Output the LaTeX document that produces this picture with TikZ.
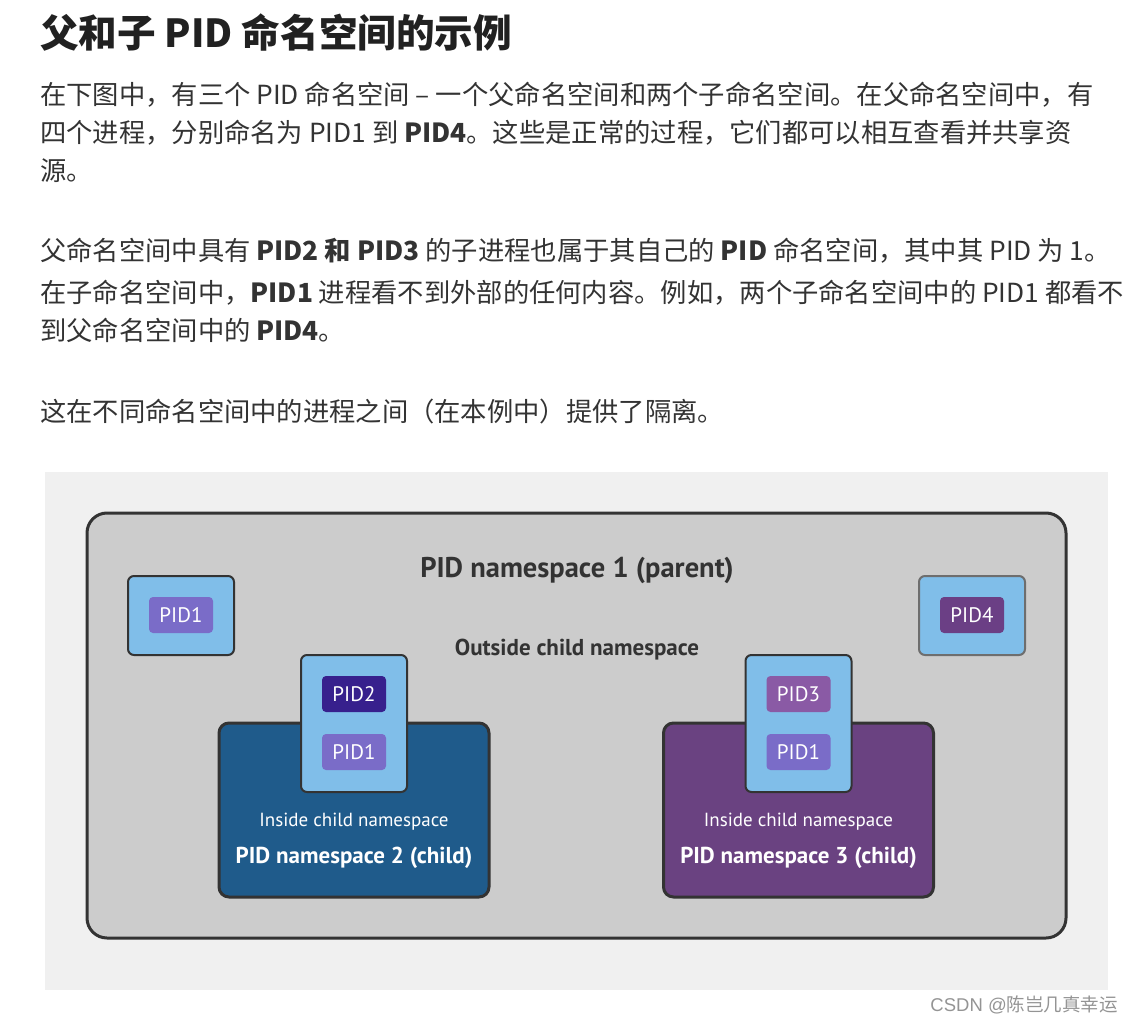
\documentclass[tikz,border=0pt]{standalone}
\usepackage{fontspec}
\setmainfont{Noto Sans CJK SC}
\newfontfamily\diagfont{PT Sans}
\newfontfamily\markfont{Liberation Sans}
\definecolor{ink}{HTML}{333333}
\definecolor{pagebg}{HTML}{F0F0F0}
\definecolor{parentfill}{HTML}{CCCCCC}
\definecolor{edge}{HTML}{333333}
\definecolor{sky}{HTML}{80BEE9}
\definecolor{lavender}{HTML}{7A6CC8}
\definecolor{indigo}{HTML}{37208D}
\definecolor{plum}{HTML}{8A5AA5}
\definecolor{grape}{HTML}{6B3F85}
\definecolor{childblue}{HTML}{1F5B8B}
\definecolor{childpurple}{HTML}{6A4281}
\tikzstyle{para}=[anchor=base west, inner sep=0pt, text=ink, font=\fontsize{26.3}{38}\selectfont]
\tikzstyle{host}=[draw=edge, line width=2pt, fill=sky, rounded corners=6pt, minimum width=106pt, minimum height=79pt, inner sep=0pt]
\tikzstyle{pidtag}=[rounded corners=4pt, minimum width=64pt, minimum height=36pt, inner sep=0pt, text=white, font=\diagfont\fontsize{21}{21}\selectfont]
\tikzstyle{childns}=[draw=edge, line width=3pt, rounded corners=10pt, minimum width=270pt, minimum height=174pt, inner sep=0pt]
\tikzstyle{inlabel}=[anchor=base, inner sep=0pt, text=white]

\begin{document}
\begin{tikzpicture}[x=1pt, y=-1pt]
\useasboundingbox (0,0) rectangle (1132,1024);
% Heading
    \node[anchor=base west, inner sep=0pt, text=black!87, font=\bfseries\fontsize{38.6}{38.6}\selectfont] (title) at (40,48) {父和子 PID 命名空间的示例};
% Text
    \node[para] (l1) at (40,105) {在下图中，有三个 PID 命名空间 – 一个父命名空间和两个子命名空间。在父命名空间中，有};
    \node[para] (l2) at (40,143) {四个进程，分别命名为 PID1 到 \textbf{PID4}。这些是正常的过程，它们都可以相互查看并共享资};
    \node[para] (l3) at (40,181) {源。};
    \node[para] (l4) at (40,261) {父命名空间中具有 \textbf{PID2 和 PID3} 的子进程也属于其自己的 \textbf{PID} 命名空间，其中其 PID 为 1。};
    \node[para] (l5) at (40,302) {在子命名空间中，\textbf{PID1} 进程看不到外部的任何内容。例如，两个子命名空间中的 PID1 都看不};
    \node[para] (l6) at (40,340) {到父命名空间中的 \textbf{PID4}。};
    \node[para] (l7) at (40,421) {这在不同命名空间中的进程之间（在本例中）提供了隔离。};
% Diagram background
    \fill[pagebg] (45,472) rectangle (1108,990);
    \node[draw=edge, fill=parentfill, line width=3pt, rounded corners=20pt, minimum width=979pt, minimum height=425pt] (parent) at (576.5,725.5) {};
    \node[anchor=base, inner sep=0pt, text=ink, font=\diagfont\bfseries\fontsize{28.5}{28.5}\selectfont] (parenttitle) at (577,577) {PID namespace 1 (parent)};
    \node[anchor=base, inner sep=0pt, text=ink, font=\diagfont\bfseries\fontsize{23}{23}\selectfont] (outside) at (577,655) {Outside child namespace};
% Processes outside
    \node[host] (hostA) at (181,615.5) {};
    \node[pidtag, fill=lavender] (pidA) at (181,615) {PID1};
    \node[host, draw=black!57] (hostD) at (972,615.5) {};
    \node[pidtag, fill=grape] (pidD) at (972,615) {PID4};
% Child namespace 2
    \node[childns, fill=childblue] (ns2) at (354,810) {};
    \node[host, minimum height=137pt] (hostB) at (354,723.5) {};
    \node[pidtag, fill=indigo] (pidB) at (354,694) {PID2};
    \node[pidtag, fill=lavender] (pidB1) at (354,752) {PID1};
    \node[inlabel, font=\diagfont\fontsize{19}{19}\selectfont] (inB) at (354,826) {Inside child namespace};
    \node[inlabel, font=\diagfont\bfseries\fontsize{23}{23}\selectfont] (nameB) at (354,863) {PID namespace 2 (child)};
% Child namespace 3
    \node[childns, fill=childpurple] (ns3) at (798.5,810) {};
    \node[host, minimum height=137pt] (hostC) at (798.5,723.5) {};
    \node[pidtag, fill=plum] (pidC) at (798.5,694) {PID3};
    \node[pidtag, fill=lavender] (pidC1) at (798.5,752) {PID1};
    \node[inlabel, font=\diagfont\fontsize{19}{19}\selectfont] (inC) at (798.5,826) {Inside child namespace};
    \node[inlabel, font=\diagfont\bfseries\fontsize{23}{23}\selectfont] (nameC) at (798.5,863) {PID namespace 3 (child)};
% Watermark
    \node[anchor=base east, inner sep=0pt, text=black!42, font=\fontsize{18.5}{18.5}\selectfont] (mark) at (1118,1011) {{\markfont CSDN @}陈岂几真幸运};
\end{tikzpicture}
\end{document}
